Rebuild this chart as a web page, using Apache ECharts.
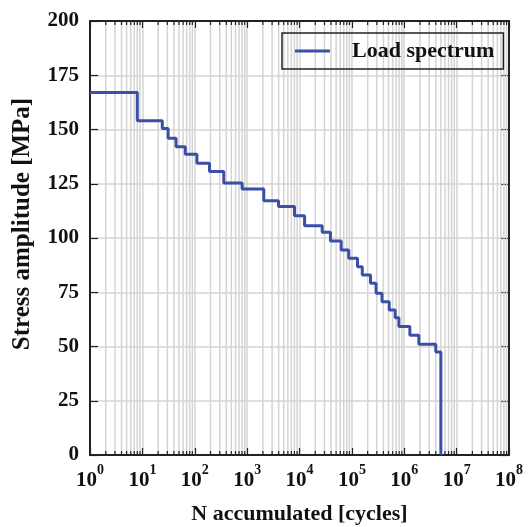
<!DOCTYPE html>
<html><head><meta charset="utf-8">
<script src="https://cdn.jsdelivr.net/npm/echarts@6/dist/echarts.min.js"></script>
<style>html,body{margin:0;padding:0;background:#fff}#c{width:529px;height:527px}</style>
</head><body><div id="c"></div>
<script>
// Load spectrum: step start (accumulated cycles) and stress amplitude level [MPa]
const cycles = [1, 8, 24, 31, 44, 66, 110, 191, 358, 802, 2080, 3970, 8020, 12500, 27100, 39000, 62500, 87000, 128000, 158000, 227000, 290000, 376000, 516000, 672000, 790000, 1280000, 1900000, 4000000, 5000000];
const stress = [167, 154, 150.5, 146, 142, 138.6, 134.5, 130.6, 125.3, 122.6, 117.2, 114.5, 110.3, 105.7, 102.6, 98.6, 94.5, 90.7, 86.8, 82.9, 79.1, 74.5, 70.6, 66.8, 63.2, 59.2, 55.2, 51, 47.5, 0];
const seriesName = 'Load spectrum';
const xTitle = 'N accumulated [cycles]';
const yTitle = 'Stress amplitude [MPa]';
const decades = [0, 1, 2, 3, 4, 5, 6, 7];
const mantissas = [2, 3, 4, 5, 6, 7, 8, 9];

const F = 'Liberation Serif';
const AX = '#222';
const GRID = '#d4d4d4';
const BLUE = '#3b4fa7';

const lineData = cycles.map((c, i) => [c, stress[i]]);
const minorVals = [];
decades.forEach(d => mantissas.forEach(m => minorVals.push([m * Math.pow(10, d), 0])));

const chart = echarts.init(document.getElementById('c'), null, {renderer: 'canvas'});
chart.setOption({
  animation: false,
  backgroundColor: '#fff',
  grid: {left: 90, right: 20, top: 21, bottom: 72, containLabel: false, outerBoundsMode: 'none'},
  legend: {
    show: true, left: 282, top: 33,
    padding: [7, 9, 7, 13],
    borderColor: '#222', borderWidth: 1.5,
    icon: 'rect', itemWidth: 35, itemHeight: 3,
    textStyle: {fontFamily: F, fontWeight: 'bold', fontSize: 22, color: '#111', padding: [0, 0, 0, 17], lineHeight: 22},
    data: [seriesName]
  },
  xAxis: [{
    type: 'log', logBase: 10, min: 1, max: 1e8, splitNumber: 8,
    name: xTitle, nameLocation: 'middle', nameGap: 48,
    nameTextStyle: {fontFamily: F, fontWeight: 'bold', fontSize: 22, color: '#111'},
    axisLine: {show: true, onZero: false, lineStyle: {color: AX, width: 2}},
    axisTick: {show: true, inside: true, length: 7, lineStyle: {color: AX, width: 1.2}},
    splitLine: {show: true, lineStyle: {color: GRID, width: 1.5}},
    axisLabel: {
      margin: 8,
      formatter: v => '{b|10}{s|' + Math.round(Math.log10(v)) + '}',
      rich: {
        b: {fontFamily: F, fontWeight: 'bold', fontSize: 21, color: '#111', verticalAlign: 'bottom', lineHeight: 28},
        s: {fontFamily: F, fontWeight: 'bold', fontSize: 14, color: '#111', verticalAlign: 'top', lineHeight: 14}
      }
    }
  }, {
    type: 'log', logBase: 10, min: 1, max: 1e8, splitNumber: 8, position: 'top',
    axisLine: {show: true, onZero: false, lineStyle: {color: AX, width: 2}},
    axisTick: {show: true, inside: true, length: 7, lineStyle: {color: AX, width: 1.2}},
    axisLabel: {show: false}, splitLine: {show: false}
  }],
  yAxis: [{
    type: 'value', min: 0, max: 200, interval: 25,
    name: yTitle, nameLocation: 'middle', nameGap: 55, nameRotate: 90,
    nameTextStyle: {fontFamily: F, fontWeight: 'bold', fontSize: 25, color: '#111', padding: [0, 0, 0, 28]},
    axisLine: {show: true, onZero: false, lineStyle: {color: AX, width: 2}},
    axisTick: {show: true, inside: true, length: 8, lineStyle: {color: AX, width: 1.2}},
    splitLine: {show: true, lineStyle: {color: GRID, width: 1.5}},
    axisLabel: {fontFamily: F, fontWeight: 'bold', fontSize: 21, color: '#111', margin: 11}
  }, {
    type: 'value', min: 0, max: 200, interval: 25, position: 'right',
    axisLine: {show: true, onZero: false, lineStyle: {color: AX, width: 2}},
    axisTick: {show: true, inside: true, length: 8, lineStyle: {color: AX, width: 1.2}},
    axisLabel: {show: false}, splitLine: {show: false}
  }],
  series: [{
    type: 'custom', z: 1, silent: true,
    xAxisIndex: 0, yAxisIndex: 0,
    data: minorVals,
    clip: false,
    renderItem: (params, api) => {
      const cs = params.coordSys;
      const x = api.coord([api.value(0), 0])[0];
      const top = cs.y, bot = cs.y + cs.height;
      return {type: 'group', children: [
        {type: 'line', shape: {x1: x, y1: top + 1, x2: x, y2: bot - 1}, style: {stroke: GRID, lineWidth: 1.5}},
        {type: 'line', shape: {x1: x, y1: bot, x2: x, y2: bot - 4}, style: {stroke: AX, lineWidth: 1.2}},
        {type: 'line', shape: {x1: x, y1: top, x2: x, y2: top + 4}, style: {stroke: AX, lineWidth: 1.2}}
      ]};
    }
  }, {
    name: seriesName, type: 'line', z: 3,
    xAxisIndex: 0, yAxisIndex: 0,
    step: 'end', showSymbol: false, symbol: 'none',
    lineStyle: {color: BLUE, width: 3},
    itemStyle: {color: BLUE},
    data: lineData
  }]
});
</script>
</body></html>
